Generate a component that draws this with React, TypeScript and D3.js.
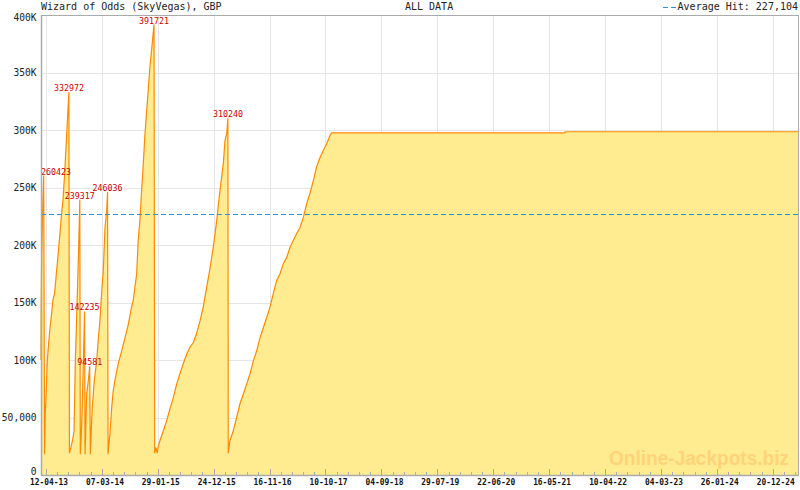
import React from "react";
import * as d3 from "d3";

// ---- data ----
const BASE_DATE = "2013-04-12";
// days after BASE_DATE
const dayOffsets = [
  -29, -28, -25, -18, -13, -8,
  -4, 2, 8, 14, 22, 31, 41, 51, 61, 70, 80, 90, 100, 110, 118, 125, 131, 135, 138,
  147, 156, 165, 173, 182, 191, 199, 202,
  209, 214, 220, 227, 230,
  239, 249, 257, 261,
  268, 272, 284, 298, 307, 317, 327, 337, 347, 357, 362, 365,
  376, 386, 395, 405, 425, 445, 464, 484, 503, 513, 533, 542, 552, 562, 572, 582, 592, 601, 611, 621, 630, 635, 639,
  646, 654, 660, 670, 689, 709, 729, 748, 768, 787, 807, 827, 846, 865, 885, 905, 924, 944, 964, 983, 1003, 1022, 1042, 1052, 1062, 1068, 1069, 1071,
  1081, 1100, 1120, 1140, 1159, 1179, 1199, 1218, 1238, 1257, 1277, 1297, 1316, 1336, 1355, 1375, 1395, 1414, 1434, 1453, 1473, 1492, 1512, 1532, 1551, 1571, 1590, 1610, 1629, 1649, 1668, 1678,
  3049, 3050, 4418,
];
const jackpotValues = [
  100000, 146000, 192000, 237000, 260423, 18000,
  53000, 73000, 99000, 111000, 125000, 137000, 152000, 158000, 175000, 189000, 206000, 224000, 239000, 262000, 285000, 305000, 322000, 332972, 19000,
  24000, 30000, 38000, 100000, 145000, 190000, 239317, 18000,
  40000, 64000, 100000, 142235, 18000,
  70000, 82000, 94581, 18000,
  45000, 58000, 82000, 99000, 117000, 134000, 158000, 178000, 215000, 230000, 246036, 18000,
  36000, 58000, 73000, 82000, 97000, 108000, 119000, 131000, 146000, 152000, 175000, 204000, 221000, 247000, 271000, 297000, 317000, 335000, 355000, 370000, 384000, 391721, 19000,
  24000, 19000, 25000, 30000, 38000, 47000, 58000, 67000, 79000, 88000, 97000, 105000, 111000, 115000, 123000, 134000, 146000, 163000, 180000, 198000, 221000, 247000, 271000, 291000, 297000, 308000, 310240, 19000,
  30000, 38000, 50000, 62000, 70000, 79000, 88000, 99000, 108000, 119000, 128000, 137000, 146000, 158000, 169000, 175000, 184000, 189000, 198000, 204000, 210000, 215000, 224000, 236000, 245000, 256000, 268000, 276000, 282000, 288000, 295000, 297500,
  297500, 298500, 298500,
];
const hitValues = [260423, 332972, 239317, 142235, 94581, 246036, 391721, 310240];
const averageHit = 227104;
const xTickLabels = [
  "12-04-13", "07-03-14", "29-01-15", "24-12-15", "16-11-16", "10-10-17", "04-09-18",
  "29-07-19", "22-06-20", "16-05-21", "10-04-22", "04-03-23", "26-01-24", "20-12-24",
];
const yTickValues = [0, 50000, 100000, 150000, 200000, 250000, 300000, 350000, 400000];
const yTickLabels = ["0", "50,000", "100K", "150K", "200K", "250K", "300K", "350K", "400K"];
const titleText = "Wizard of Odds (SkyVegas), GBP";
const subtitleText = "ALL DATA";
const legendText = "Average Hit: 227,104";
const watermarkText = "Online-Jackpots.biz";

// ---- layout ----
const W = 800;
const H = 490;
const L = 41;
const R = 798;
const T = 15;
const B = 475;
const MONO = "'DejaVu Sans Mono', monospace";

export default function App() {
  const base = d3.timeParse("%Y-%m-%d")(BASE_DATE) as Date;
  const data = dayOffsets.map((d, i) => ({ date: d3.timeDay.offset(base, d), value: jackpotValues[i] }));
  const domain = d3.extent(data, (d) => d.date) as [Date, Date];
  const x = d3.scaleTime().domain(domain).range([L, R]);
  const y = d3.scaleLinear().domain([0, 400000]).range([B, T]);

  const parseTick = d3.timeParse("%d-%m-%y");
  const majors = xTickLabels.map((s) => parseTick(s) as Date);
  const step = (majors[majors.length - 1].getTime() - majors[0].getTime()) / ((majors.length - 1) * 5);
  const minors: number[] = [];
  for (let t = majors[0].getTime() - step; t >= domain[0].getTime(); t -= step) minors.push(t);
  for (let k = 1; majors[0].getTime() + k * step <= domain[1].getTime(); k++) {
    if (k % 5 !== 0) minors.push(majors[0].getTime() + k * step);
  }

  const area = d3
    .area<{ date: Date; value: number }>()
    .curve(d3.curveLinear)
    .x((d) => x(d.date))
    .y0(y(0))
    .y1((d) => y(d.value));
  const line = d3
    .line<{ date: Date; value: number }>()
    .curve(d3.curveLinear)
    .x((d) => x(d.date))
    .y((d) => y(d.value));

  const peaks = hitValues.map((v) => {
    const p = data.find((d) => d.value === v)!;
    const label = String(v);
    const half = (label.length * 8.3 * 0.602) / 2;
    let px = x(p.date);
    if (px - half < L) px = L + half;
    return { label, px, py: y(v) };
  });

  return (
    <svg width={W} height={H} style={{ position: "absolute", left: 0, top: 0, background: "#fff" }}>
      <rect x={0} y={0} width={W} height={H} fill="#fff" />
      {/* grid */}
      {yTickValues.map((v) => (
        <line key={"gy" + v} x1={L} x2={R} y1={Math.round(y(v)) + 0.5} y2={Math.round(y(v)) + 0.5} stroke="#e6e6e6" />
      ))}
      {majors.map((d, i) => (
        <line key={"gx" + i} x1={Math.round(x(d)) + 0.5} x2={Math.round(x(d)) + 0.5} y1={T} y2={B} stroke="#e6e6e6" />
      ))}
      {/* area */}
      <path d={area(data) || ""} fill="#ffeb90" />
      <path d={line(data) || ""} fill="none" stroke="#ff8a00" strokeWidth={1.2} />
      {/* watermark */}
      <text x={789} y={465} textAnchor="end" fontFamily="'Liberation Sans', Arial, sans-serif" fontWeight="bold" fontSize={20} fill="#ffd37a" textLength={180} lengthAdjust="spacingAndGlyphs">
        {watermarkText}
      </text>
      {/* average line */}
      <line x1={L} x2={R} y1={Math.round(y(averageHit)) + 0.5} y2={Math.round(y(averageHit)) + 0.5} stroke="#3b8fc7" strokeDasharray="5,3" />
      {/* peak labels */}
      {peaks.map((p, i) => (
        <text key={"pk" + i} x={p.px} y={p.py - 1} textAnchor="middle" fontFamily={MONO} fontSize={8.3} fill="#cc0000">
          {p.label}
        </text>
      ))}
      {/* frame */}
      <line x1={L} x2={R} y1={T + 0.5} y2={T + 0.5} stroke="#aaa" />
      <line x1={R + 0.5} x2={R + 0.5} y1={T} y2={B} stroke="#aaa" />
      <line x1={L + 0.5} x2={L + 0.5} y1={T} y2={B + 1} stroke="#aaa" strokeWidth={1.5} />
      <line x1={L} x2={R + 1} y1={B + 0.5} y2={B + 0.5} stroke="#aaa" strokeWidth={1.5} />
      {/* x ticks */}
      {minors.map((t, i) => (
        <line key={"mn" + i} x1={Math.round(x(new Date(t))) + 0.5} x2={Math.round(x(new Date(t))) + 0.5} y1={B - 3} y2={B} stroke="#aaa" />
      ))}
      {majors.map((d, i) => (
        <line key={"mj" + i} x1={Math.round(x(d)) + 0.5} x2={Math.round(x(d)) + 0.5} y1={B - 6} y2={B} stroke="#aaa" />
      ))}
      {majors.map((d, i) => (
        <text key={"xl" + i} x={x(d) + 3} y={485} textAnchor="middle" fontFamily={MONO} fontWeight="bold" fontSize={9} fill="#111" textLength={38} lengthAdjust="spacingAndGlyphs">
          {xTickLabels[i]}
        </text>
      ))}
      {/* y labels */}
      {yTickValues.map((v, i) => (
        <text key={"yl" + v} x={36.5} y={Math.min(Math.max(y(v), 17), 471) + 3.6} textAnchor="end" fontFamily={MONO} fontSize={9.6} fill="#222">
          {yTickLabels[i]}
        </text>
      ))}
      {/* header */}
      <text x={41} y={10} fontFamily={MONO} fontSize={10} fill="#222">{titleText}</text>
      <text x={405} y={10} fontFamily={MONO} fontSize={10} fill="#222">{subtitleText}</text>
      <line x1={663} x2={677} y1={7.5} y2={7.5} stroke="#3b8fc7" strokeDasharray="5,3" />
      <text x={798} y={10} textAnchor="end" fontFamily={MONO} fontSize={10} fill="#222">{legendText}</text>
    </svg>
  );
}
